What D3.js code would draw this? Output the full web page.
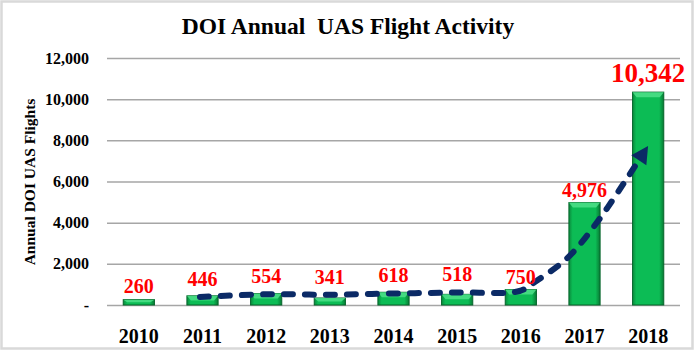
<!DOCTYPE html>
<html><head><meta charset="utf-8">
<script src="https://cdn.jsdelivr.net/npm/d3@7"></script>
<style>html,body{margin:0;padding:0;background:#fff;}svg{display:block;}</style>
</head><body>
<script>
const years = ["2010","2011","2012","2013","2014","2015","2016","2017","2018"];
const flights = [260, 446, 554, 341, 618, 518, 750, 4976, 10342];
const yTicks = [0, 2000, 4000, 6000, 8000, 10000, 12000];
// trend arrow path in (category index, value) space
const trendIdx = [0.96, 2.0, 3.0, 4.0, 5.0, 5.98, 6.22, 6.73, 7.2, 7.63, 7.93];
const trendVal = [390, 520, 500, 560, 610, 680, 1120, 2280, 4030, 5975, 7400];

const W = 696, H = 350;
const m = {l:107, r:16, t:58, b:45};
const svg = d3.select("body").append("svg").attr("width", W).attr("height", H);
svg.append("rect").attr("x",1.5).attr("y",1.5).attr("width",W-5).attr("height",H-3)
  .attr("fill","#fff").attr("stroke","#d9d9d9").attr("stroke-width",2.5);

const x = d3.scaleBand().domain(years).range([m.l, W-m.r]).paddingInner(0.51).paddingOuter(0.255);
const xi = d3.scaleLinear().domain([0, years.length-1]).range([x(years[0])+x.bandwidth()/2, x(years[years.length-1])+x.bandwidth()/2]);
const y = d3.scaleLinear().domain([0,12000]).range([H-m.b, m.t]);

const defs = svg.append("defs");
const g1 = defs.append("linearGradient").attr("id","barg").attr("x1","0").attr("x2","1").attr("y1","0").attr("y2","0");
g1.append("stop").attr("offset","0").attr("stop-color","#0a8a3c");
g1.append("stop").attr("offset","0.12").attr("stop-color","#0cbc55");
g1.append("stop").attr("offset","0.85").attr("stop-color","#0cbc55");
g1.append("stop").attr("offset","1").attr("stop-color","#087a34");

// gridlines
const yAxis = d3.axisLeft(y).tickValues(yTicks).tickSize(-(W-m.l-m.r)).tickPadding(18)
  .tickFormat(d => d===0 ? "-" : d3.format(",")(d));
const ga = svg.append("g").attr("transform",`translate(${m.l},0)`).call(yAxis);
ga.select(".domain").remove();
ga.selectAll(".tick line").attr("stroke","#a6a6a6").attr("stroke-width",1.5);
ga.selectAll(".tick text").attr("font-family","Liberation Serif, Times New Roman, serif")
  .attr("font-weight","bold").attr("font-size",16).attr("fill","#000");

// x axis
const xAxis = d3.axisBottom(x).tickSize(0).tickPadding(24);
const gx = svg.append("g").attr("transform",`translate(0,${y(0)})`).call(xAxis);
gx.select(".domain").remove();
gx.selectAll(".tick text").attr("font-family","Liberation Serif, Times New Roman, serif")
  .attr("font-weight","bold").attr("font-size",20).attr("fill","#000");

// bars
const bars = svg.append("g").selectAll("g").data(years).join("g");
bars.append("rect")
  .attr("x", d => x(d)).attr("width", x.bandwidth())
  .attr("y", (d,i) => y(flights[i])).attr("height", (d,i) => y(0)-y(flights[i]))
  .attr("fill","url(#barg)").attr("stroke","#06652b").attr("stroke-width",1);
bars.append("path")
  .attr("d", (d,i) => {
    const x0 = x(d), x1 = x(d)+x.bandwidth(), t = y(flights[i]);
    const bv = Math.min(5, (y(0)-t)/2);
    return `M${x0},${t}L${x1},${t}L${x1-4},${t+bv}L${x0+4},${t+bv}Z`;
  })
  .attr("fill","#4fe08a").attr("opacity",0.85);

// trend line
const trend = trendIdx.map((v,i) => [xi(v), y(trendVal[i])]);
const line = d3.line().curve(d3.curveCatmullRom.alpha(0.5));
svg.append("path").attr("d", line(trend)).attr("fill","none")
  .attr("stroke","#0b2a66").attr("stroke-width",6).attr("stroke-linecap","round")
  .attr("stroke-dasharray","9 12");
// arrow head
const p1 = trend[trend.length-2], p2 = trend[trend.length-1];
const ang = Math.atan2(p2[1]-p1[1], p2[0]-p1[0]);
const tip = [p2[0]+Math.cos(ang)*8, p2[1]+Math.sin(ang)*8];
const L = 17, Wd = 9;
const bx = tip[0]-Math.cos(ang)*L, by = tip[1]-Math.sin(ang)*L;
svg.append("path").attr("d", `M${tip[0]},${tip[1]}L${bx+Math.sin(ang)*Wd},${by-Math.cos(ang)*Wd}L${bx-Math.sin(ang)*Wd},${by+Math.cos(ang)*Wd}Z`)
  .attr("fill","#0b2a66");

// value labels
const trendAt = v => {
  for (let k=0;k<trendIdx.length-1;k++) if (v>=trendIdx[k] && v<=trendIdx[k+1]) {
    const f=(v-trendIdx[k])/(trendIdx[k+1]-trendIdx[k]);
    return y(trendVal[k]+f*(trendVal[k+1]-trendVal[k]));
  }
  return Infinity;
};
svg.append("g").selectAll("text").data(years).join("text")
  .attr("x", d => x(d)+x.bandwidth()/2)
  .attr("y", (d,i) => {
    const top = y(flights[i]);
    return i < 6 ? Math.min(top-7, trendAt(i)-11) : top - (i===8 ? 10 : 6);
  })
  .attr("text-anchor","middle")
  .attr("font-family","Liberation Serif, Times New Roman, serif").attr("font-weight","bold")
  .attr("font-size", (d,i) => i===8 ? 27 : 20).attr("fill","#ff0000")
  .text((d,i) => d3.format(",")(flights[i]));

// title
svg.append("text").attr("x", 348).attr("y", 34).attr("text-anchor","middle")
  .attr("font-family","Liberation Serif, Times New Roman, serif").attr("font-weight","bold")
  .attr("font-size",23.5).attr("fill","#000").attr("xml:space","preserve")
  .text("DOI Annual  UAS Flight Activity");

// y title
svg.append("text").attr("transform","translate(35,182) rotate(-90)").attr("text-anchor","middle")
  .attr("font-family","Liberation Serif, Times New Roman, serif").attr("font-weight","bold")
  .attr("font-size",15.5).attr("fill","#000").text("Annual DOI UAS Flights");
</script>
</body></html>
